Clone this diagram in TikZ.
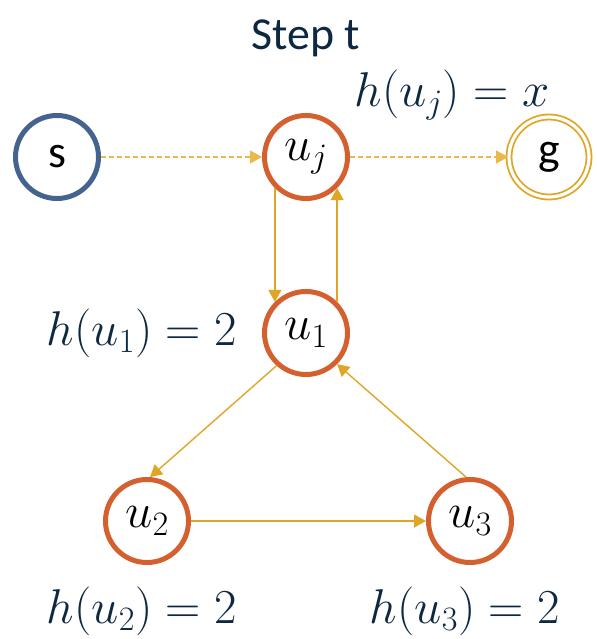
\RequirePackage{fix-cm}
\documentclass[tikz,border=0pt]{standalone}
\usepackage{fontspec}
\setmainfont{Carlito}
\usepackage{xcolor}
\usetikzlibrary{arrows.meta}

\definecolor{nodeorange}{HTML}{D5602F}
\definecolor{nodeblue}{HTML}{44648F}
\definecolor{edgegold}{HTML}{DFA626}
\definecolor{dashgold}{HTML}{E9B94E}
\definecolor{labelnavy}{HTML}{0E2841}

\begin{document}
\begin{tikzpicture}[x=1bp,y=-1bp,
            state/.style={circle,draw=nodeorange,line width=5bp,minimum size=83bp,inner sep=0pt,font=\fontsize{49}{52}\selectfont},
            startnode/.style={state,draw=nodeblue,font=\fontsize{46}{50}\selectfont},
            goalnode/.style={circle,draw=edgegold,double=white,line width=1.8bp,double distance=3.2bp,minimum size=80bp,inner sep=0pt,font=\fontsize{46}{50}\selectfont},
            hlabel/.style={text=labelnavy,font=\fontsize{49}{52}\selectfont},
            arrow/.style={-{Triangle[length=12bp,width=13bp]},draw=edgegold,line width=1.4bp},
            dasharrow/.style={arrow,draw=dashgold,dash pattern=on 5bp off 3bp}]
            \useasboundingbox (0,0) rectangle (597,639);
            \node[text=labelnavy,font=\fontsize{46}{50}\selectfont] (title) at (306,38) {Step t};
            \node[startnode] (s) at (57,157) {s};
            \node[state] (uj) at (306,157) {$u_j$};
            \node[goalnode] (g) at (549,157) {g};
            \node[state] (u1) at (306,333) {$u_1$};
            \node[state] (u2) at (147,521) {$u_2$};
            \node[state] (u3) at (470,521) {$u_3$};
            \node[hlabel] (huj) at (452,95) {$h(u_j)=x$};
            \node[hlabel] (hu1) at (142,333) {$h(u_1)=2$};
            \node[hlabel] (hu2) at (142,611) {$h(u_2)=2$};
            \node[hlabel] (hu3) at (465,611) {$h(u_3)=2$};
            \draw[dasharrow] (s)--(uj);
            \draw[dasharrow] (uj)--(g);
            \draw[arrow] (uj.225)--(u1.135);
            \draw[arrow] (u1.45)--(uj.-45);
            \draw[arrow] (u1.228)--(u2.86);
            \draw[arrow] (u2)--(u3);
            \draw[arrow] (u3.95)--(u1.-45);
        \end{tikzpicture}
\end{document}
